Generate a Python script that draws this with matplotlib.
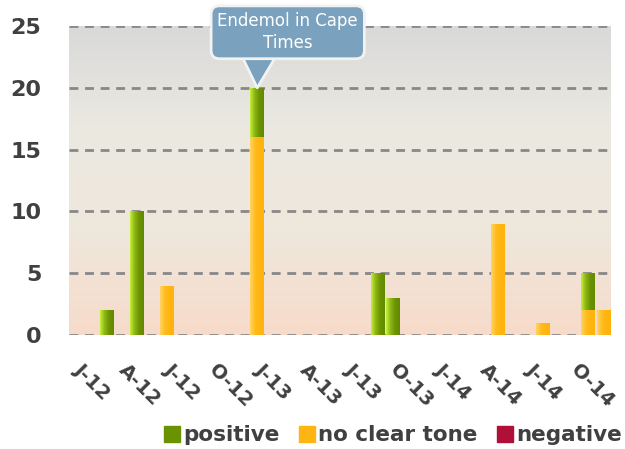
import numpy as np
import matplotlib
matplotlib.use("Agg")
import matplotlib.pyplot as plt
import matplotlib.transforms as mtransforms
from matplotlib.colors import LinearSegmentedColormap
from matplotlib.patches import Patch

# monthly mention counts, Jan 2012 .. Dec 2014
months = list(range(36))
positive = [0, 0, 2, 0, 10, 0, 0, 0, 0, 0, 0, 0,
            4, 0, 0, 0, 0, 0, 0, 0, 5, 3, 0, 0,
            0, 0, 0, 0, 0, 0, 0, 0, 0, 0, 3, 0]
no_clear = [0, 0, 0, 0, 0, 0, 4, 0, 0, 0, 0, 0,
            16, 0, 0, 0, 0, 0, 0, 0, 0, 0, 0, 0,
            0, 0, 0, 0, 9, 0, 0, 1, 0, 0, 2, 2]
negative = [0] * 36
tick_labels = ['J-12', 'A-12', 'J-12', 'O-12', 'J-13', 'A-13',
               'J-13', 'O-13', 'J-14', 'A-14', 'J-14', 'O-14']
callout_month = 12
callout_text = 'Endemol in Cape\nTimes'

TXT = '#404040'
fig = plt.figure(figsize=(6.25, 4.49), dpi=100)
ax = fig.add_axes([0.1104, 0.2539, 0.8672, 0.6881])

# background gradient
bg = LinearSegmentedColormap.from_list('bg', ['#f7dbca', '#efe7dc', '#ebe9e1', '#d9d9d9'])
ax.imshow(np.linspace(0, 1, 256).reshape(-1, 1), cmap=bg, origin='lower',
          extent=[0, 1, 0, 1], transform=ax.transAxes, aspect='auto', zorder=0)

green = LinearSegmentedColormap.from_list('g', ['#c6ef3c', '#8cb614', '#6c9300', '#628a00'])
yellow = LinearSegmentedColormap.from_list('y', ['#ffd468', '#ffbd22', '#ffb40f', '#ffb30c'])
grad = np.linspace(0, 1, 64).reshape(1, -1)

pos = np.array(positive)
ncl = np.array(no_clear)
neg = np.array(negative)
w = 0.92
b1 = ax.bar(months, ncl, width=w, color='#ffb511', zorder=3)
b2 = ax.bar(months, pos, width=w, bottom=ncl, color='#6b9200', zorder=3)
b3 = ax.bar(months, neg, width=w, bottom=ncl + pos, color='#b01038', zorder=3)
for bars, cm in [(b1, yellow), (b2, green)]:
    for p in bars:
        if p.get_height() <= 0:
            continue
        x0, y0 = p.get_x(), p.get_y()
        im = ax.imshow(grad, cmap=cm, extent=[x0, x0 + p.get_width(), y0, y0 + p.get_height()],
                       aspect='auto', zorder=3.5)
        im.set_clip_path(p)

ax.set_xlim(-0.5, 35.5)
ax.set_ylim(0, 25)
ax.set_yticks(range(0, 26, 5))
ax.yaxis.grid(True, linestyle=(0, (3.2, 2.4)), color='#888888', linewidth=2, zorder=1)
ax.set_axisbelow(True)
for s in ax.spines.values():
    s.set_visible(False)
ax.tick_params(axis='y', length=0, pad=20, labelsize=16, labelcolor=TXT)
for t in ax.get_yticklabels():
    t.set_fontweight('bold')
ax.set_xticks(months[::3])
ax.set_xticklabels(tick_labels, rotation=-45, ha='left', va='top',
                   rotation_mode='anchor', fontsize=14, color=TXT, fontweight='bold')
ax.tick_params(axis='x', length=0, pad=18)
shift = mtransforms.ScaledTranslation(5 / 72, 0, fig.dpi_scale_trans)
for t in ax.get_xticklabels():
    t.set_transform(t.get_transform() + shift)

total = pos[callout_month] + ncl[callout_month] + neg[callout_month]
ax.annotate(callout_text, xy=(callout_month, total), xytext=(22, 40),
            textcoords='offset points', ha='center', va='center',
            fontsize=12, color='white', zorder=6, linespacing=1.3,
            bbox=dict(boxstyle='round,pad=0.38,rounding_size=0.5', fc='#7aa1bd',
                      ec='#f2f2f2', lw=2),
            arrowprops=dict(arrowstyle='wedge,tail_width=3.6,shrink_factor=0.5',
                            fc='#7aa1bd', ec='#f2f2f2', lw=2,
                            relpos=(0.3, 0.5), patchA=None, shrinkA=0, shrinkB=0))

handles = [Patch(color='#6b9200'), Patch(color='#ffb511'), Patch(color='#b01038')]
leg = fig.legend(handles, ['positive', 'no clear tone', 'negative'], ncol=3,
                 loc='lower right', bbox_to_anchor=(1.026, -0.035), frameon=False,
                 handlelength=0.75, handleheight=0.75, handletextpad=0.15,
                 columnspacing=0.9, prop=dict(size=15.5, weight='bold'))
for t in leg.get_texts():
    t.set_color(TXT)

fig.savefig('out.png', dpi=100)
